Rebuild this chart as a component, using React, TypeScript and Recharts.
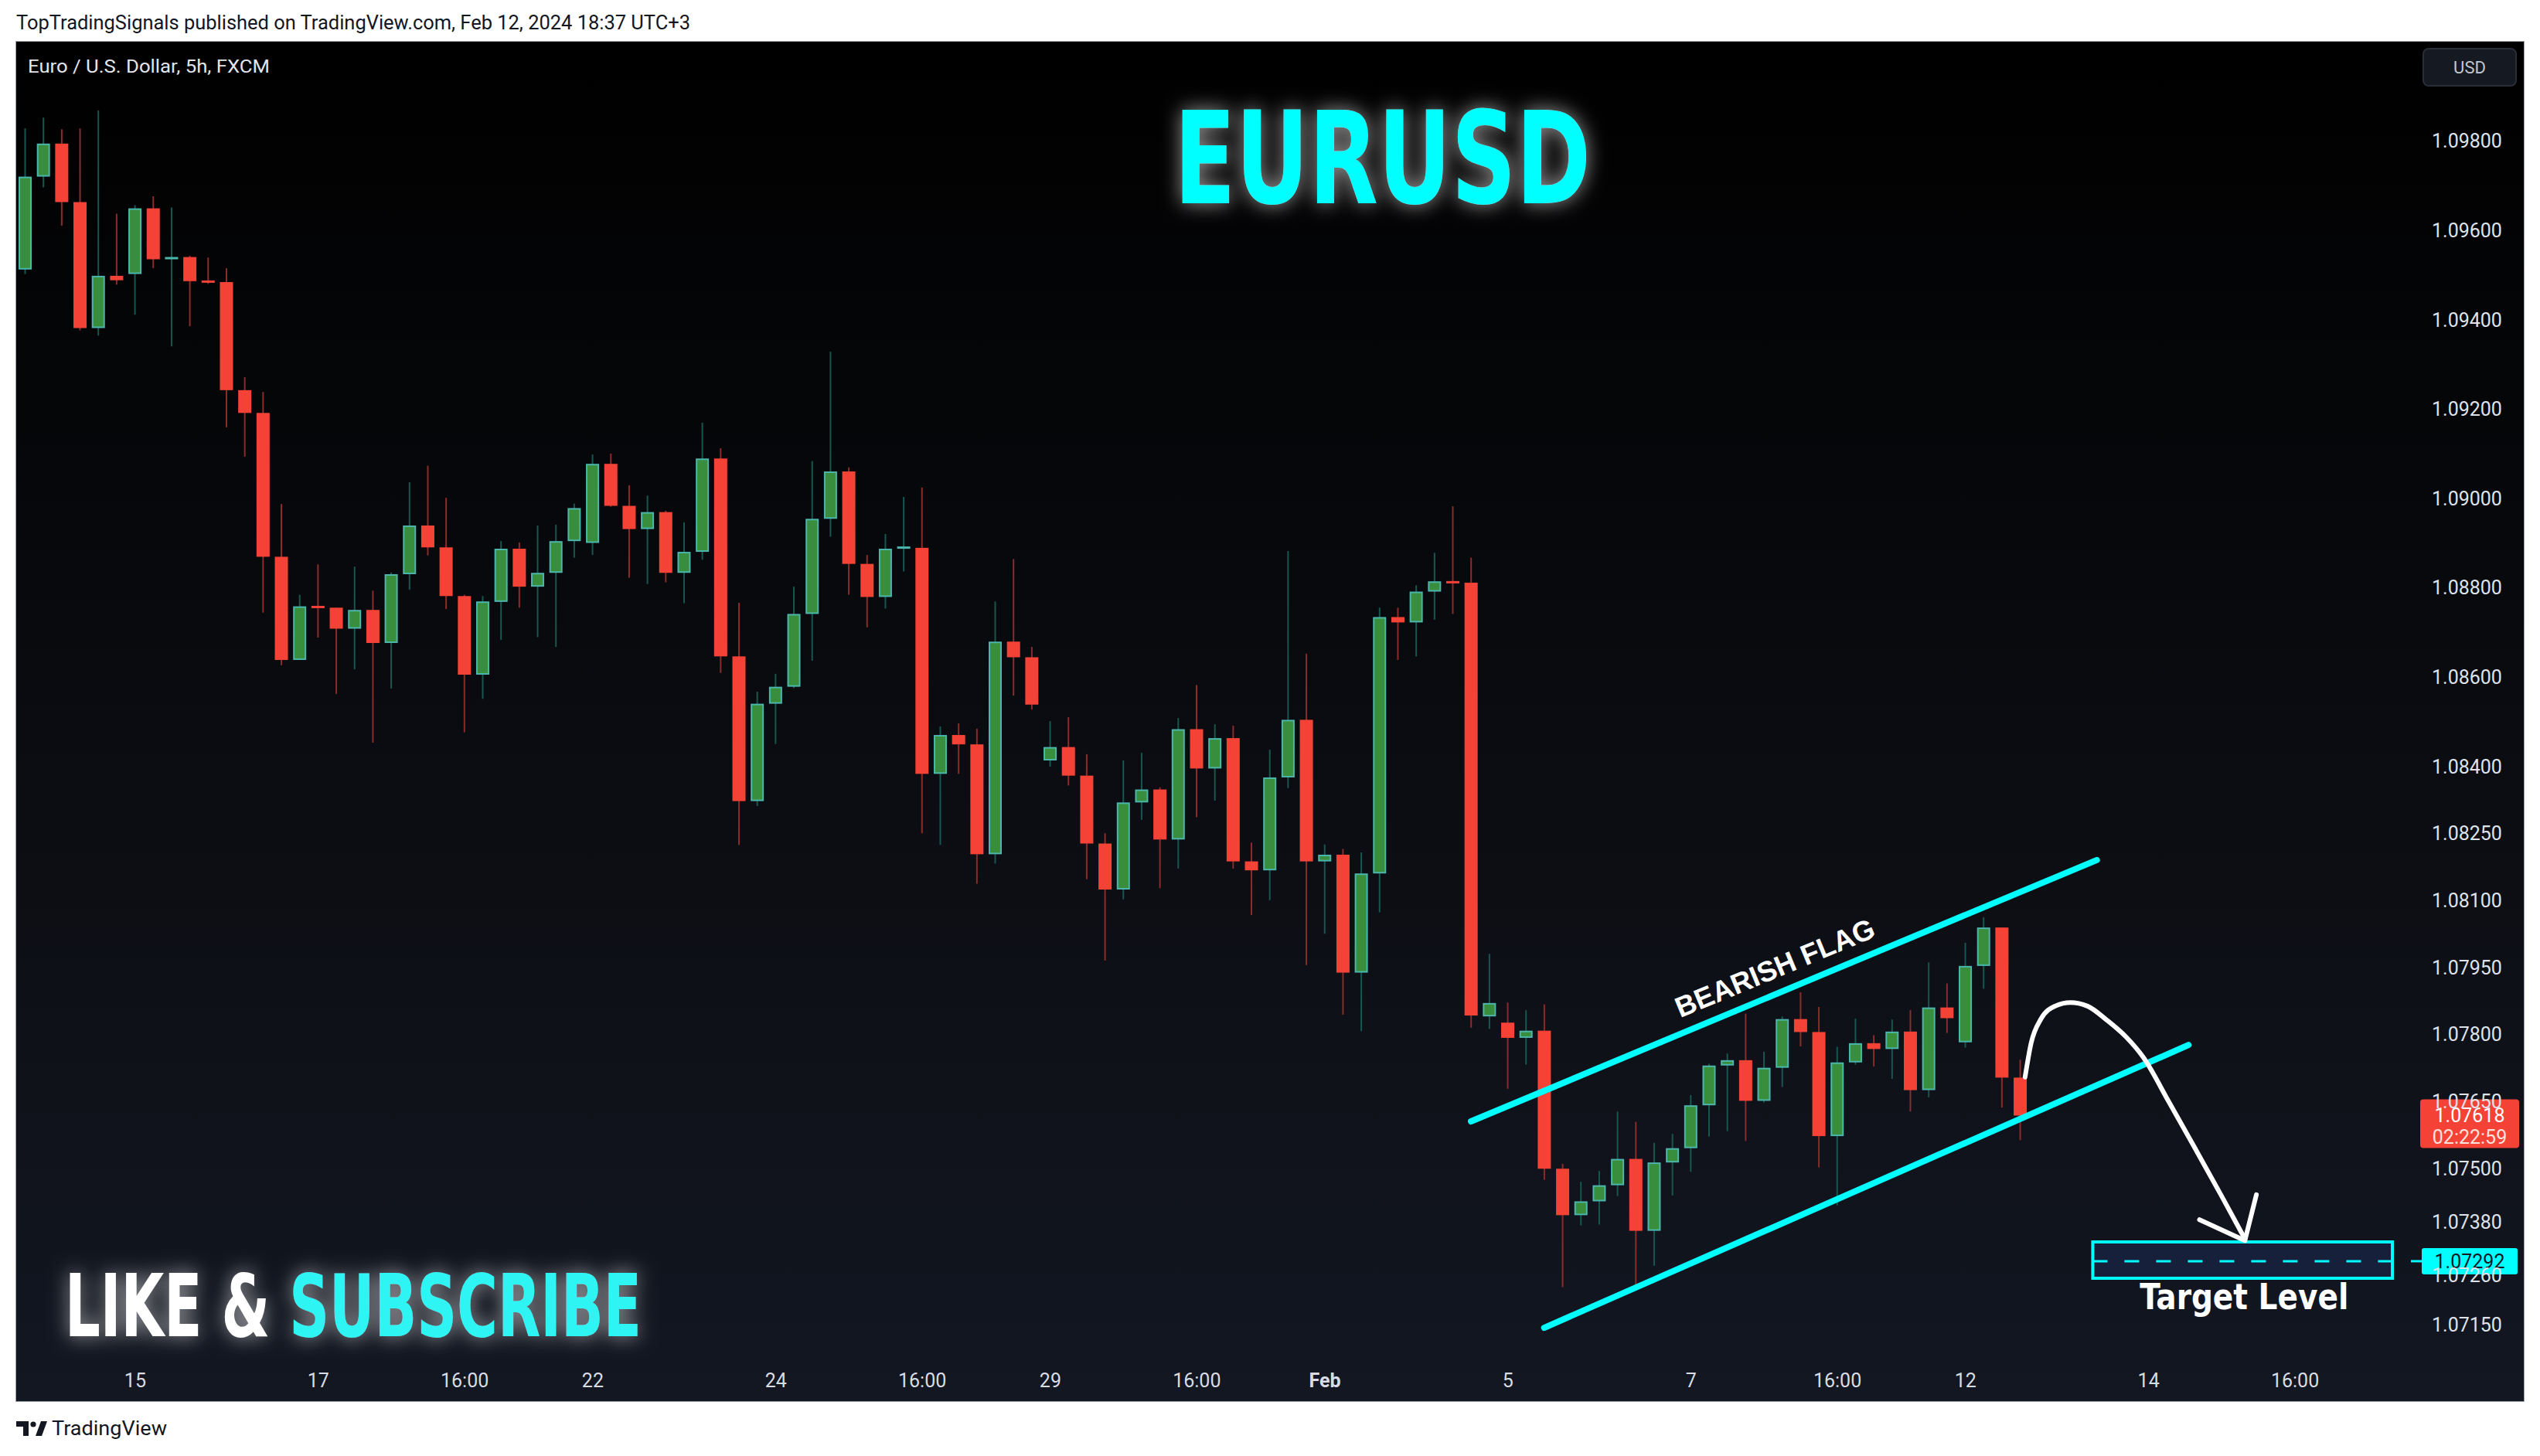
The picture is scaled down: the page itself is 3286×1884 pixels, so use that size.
import React from 'react';
import { ComposedChart, Bar, Line, XAxis, YAxis, ReferenceLine, ReferenceArea, ReferenceDot } from 'recharts';

// ---------- DATA ----------
const opens = [
  1.09512, 1.09720, 1.09794, 1.09663, 1.09381, 1.09498, 1.09502, 1.09649, 1.09535, 1.09540,
  1.09486, 1.09484, 1.09242, 1.09191, 1.08869, 1.08638, 1.08758, 1.08755, 1.08708, 1.08750,
  1.08676, 1.08830, 1.08939, 1.08890, 1.08781, 1.08605, 1.08768, 1.08887, 1.08802, 1.08833,
  1.08904, 1.08900, 1.09077, 1.08983, 1.08931, 1.08969, 1.08833, 1.08880, 1.09089, 1.08646,
  1.08322, 1.08540, 1.08578, 1.08741, 1.08954, 1.09060, 1.08853, 1.08779, 1.08888, 1.08889,
  1.08383, 1.08470, 1.08449, 1.08203, 1.08679, 1.08644, 1.08413, 1.08443, 1.08379, 1.08227,
  1.08124, 1.08319, 1.08348, 1.08236, 1.08483, 1.08395, 1.08463, 1.08187, 1.08167, 1.08375,
  1.08504, 1.08187, 1.08202, 1.07938, 1.08160, 1.08734, 1.08722, 1.08791, 1.08814, 1.08811,
  1.07840, 1.07826, 1.07792, 1.07808, 1.07499, 1.07395, 1.07426, 1.07462, 1.07521, 1.07360,
  1.07513, 1.07545, 1.07641, 1.07730, 1.07742, 1.07651, 1.07725, 1.07834, 1.07805, 1.07572,
  1.07737, 1.07780, 1.07767, 1.07806, 1.07675, 1.07860, 1.07782, 1.07953, 1.08039, 1.07703,
];
const highs = [
  1.09828, 1.09852, 1.09826, 1.09828, 1.09868, 1.09637, 1.09656, 1.09676, 1.09651, 1.09543,
  1.09539, 1.09515, 1.09271, 1.09238, 1.08987, 1.08784, 1.08852, 1.08755, 1.08847, 1.08793,
  1.08834, 1.09036, 1.09073, 1.09001, 1.08784, 1.08781, 1.08904, 1.08901, 1.08939, 1.08941,
  1.08988, 1.09098, 1.09100, 1.09029, 1.09006, 1.08972, 1.08946, 1.09169, 1.09112, 1.08766,
  1.08567, 1.08607, 1.08802, 1.09083, 1.09328, 1.09069, 1.08873, 1.08920, 1.09003, 1.09024,
  1.08489, 1.08496, 1.08484, 1.08769, 1.08864, 1.08667, 1.08501, 1.08510, 1.08427, 1.08250,
  1.08413, 1.08430, 1.08353, 1.08508, 1.08582, 1.08494, 1.08491, 1.08229, 1.08437, 1.08882,
  1.08652, 1.08225, 1.08215, 1.08207, 1.08755, 1.08755, 1.08805, 1.08878, 1.08982, 1.08867,
  1.07980, 1.07871, 1.07854, 1.07867, 1.07510, 1.07470, 1.07494, 1.07627, 1.07604, 1.07557,
  1.07577, 1.07664, 1.07734, 1.07757, 1.07846, 1.07761, 1.07840, 1.07894, 1.07861, 1.07772,
  1.07835, 1.07798, 1.07833, 1.07854, 1.07961, 1.07914, 1.08005, 1.08062, 1.08039, 1.07743,
];
const lows = [
  1.09502, 1.09696, 1.09610, 1.09376, 1.09364, 1.09478, 1.09411, 1.09515, 1.09340, 1.09385,
  1.09480, 1.09159, 1.09093, 1.08744, 1.08626, 1.08638, 1.08688, 1.08562, 1.08617, 1.08453,
  1.08574, 1.08795, 1.08872, 1.08752, 1.08476, 1.08551, 1.08683, 1.08755, 1.08689, 1.08667,
  1.08867, 1.08873, 1.08981, 1.08822, 1.08808, 1.08812, 1.08765, 1.08862, 1.08609, 1.08224,
  1.08311, 1.08450, 1.08575, 1.08636, 1.08914, 1.08784, 1.08711, 1.08753, 1.08836, 1.08250,
  1.08224, 1.08383, 1.08137, 1.08182, 1.08558, 1.08527, 1.08399, 1.08357, 1.08147, 1.07965,
  1.08102, 1.08280, 1.08127, 1.08171, 1.08286, 1.08323, 1.08171, 1.08067, 1.08100, 1.08351,
  1.07955, 1.08025, 1.07844, 1.07807, 1.08073, 1.08638, 1.08646, 1.08728, 1.08741, 1.07815,
  1.07812, 1.07678, 1.07732, 1.07474, 1.07234, 1.07372, 1.07374, 1.07438, 1.07227, 1.07282,
  1.07439, 1.07492, 1.07571, 1.07583, 1.07561, 1.07647, 1.07682, 1.07773, 1.07502, 1.07417,
  1.07732, 1.07728, 1.07700, 1.07627, 1.07659, 1.07803, 1.07770, 1.07902, 1.07636, 1.07563,
];
const closes = [
  1.09720, 1.09794, 1.09663, 1.09381, 1.09498, 1.09488, 1.09649, 1.09535, 1.09540, 1.09486,
  1.09484, 1.09242, 1.09191, 1.08869, 1.08638, 1.08758, 1.08755, 1.08708, 1.08750, 1.08676,
  1.08830, 1.08939, 1.08890, 1.08781, 1.08605, 1.08769, 1.08887, 1.08802, 1.08833, 1.08904,
  1.08978, 1.09077, 1.08983, 1.08931, 1.08969, 1.08833, 1.08880, 1.09089, 1.08646, 1.08322,
  1.08540, 1.08578, 1.08741, 1.08954, 1.09060, 1.08853, 1.08779, 1.08887, 1.08891, 1.08383,
  1.08470, 1.08449, 1.08203, 1.08679, 1.08644, 1.08538, 1.08443, 1.08379, 1.08227, 1.08124,
  1.08319, 1.08348, 1.08236, 1.08483, 1.08395, 1.08463, 1.08187, 1.08167, 1.08375, 1.08504,
  1.08187, 1.08202, 1.07938, 1.08160, 1.08734, 1.08722, 1.08791, 1.08814, 1.08810, 1.07842,
  1.07870, 1.07792, 1.07808, 1.07499, 1.07395, 1.07426, 1.07462, 1.07521, 1.07360, 1.07513,
  1.07545, 1.07641, 1.07730, 1.07742, 1.07651, 1.07725, 1.07834, 1.07805, 1.07572, 1.07737,
  1.07780, 1.07767, 1.07806, 1.07675, 1.07860, 1.07836, 1.07953, 1.08039, 1.07703, 1.07618,
];
const FUTURE_SLOTS = 21;

const timeTickIdx = [6, 16, 24, 31, 41, 49, 56, 64, 71, 81, 91, 99, 106, 116, 124];
const timeTickLbl = ['15', '17', '16:00', '22', '24', '16:00', '29', '16:00', 'Feb', '5', '7', '16:00', '12', '14', '16:00'];
const priceTicks = [1.098, 1.096, 1.094, 1.092, 1.09, 1.088, 1.086, 1.084, 1.0825, 1.081, 1.0795, 1.078, 1.0765, 1.075, 1.0738, 1.0726, 1.0715];

const lastPrice = 1.07618;
const countdown = '02:22:59';
const targetPrice = 1.07292;

const flagUpper = [{ x: 78.98, y: 1.07605 }, { x: 113.17, y: 1.0819 }];
const flagLower = [{ x: 82.98, y: 1.07143 }, { x: 118.18, y: 1.07776 }];
const targetBox = { x1: 112.95, x2: 129.32, y1: 1.07254, y2: 1.07335 };
const flagLabelPos = { x: 95.59, y: 1.07948 };
const targetLabelPos = { x: 121.22, y: 1.07185 };

const arrowPath = [
  { i: 109.25, p: 1.07704 }, { i: 109.58, p: 1.0778 }, { i: 110.13, p: 1.07835 },
  { i: 110.89, p: 1.07863 }, { i: 111.73, p: 1.07871 }, { i: 112.66, p: 1.07863 },
  { i: 113.71, p: 1.07832 }, { i: 114.77, p: 1.07794 }, { i: 115.7, p: 1.07749 },
  { i: 117.09, p: 1.0765 }, { i: 118.56, p: 1.07543 }, { i: 120.04, p: 1.07434 },
  { i: 121.26, p: 1.07342 },
];
const arrowHead = [{ i: 118.78, p: 1.07385 }, { i: 121.26, p: 1.07338 }, { i: 121.89, p: 1.07441 }];

// ---------- LAYOUT / STYLE ----------
const W = 3286;
const H = 1884;
const Y_MIN = 1.070704;
const Y_MAX = 1.10022;
const UI = "Roboto, 'Liberation Sans', Arial, sans-serif";
const COND = "'Liberation Sans Narrow', 'DejaVu Sans Condensed', Roboto, sans-serif";
const CYAN = '#00ffff';
const UP_FILL = '#388e3c';
const UP_EDGE = '#4db6ac';
const UP_WICK = '#17574f';
const DN_FILL = '#f44336';
const DN_WICK = '#8a2c2c';

const rows = Array.from({ length: opens.length + FUTURE_SLOTS }, (_, i) =>
  i < opens.length
    ? { i, o: opens[i], h: highs[i], l: lows[i], c: closes[i], hl: [lows[i], highs[i]] }
    : { i, hl: null }
);

const Candle = (props: any) => {
  const { x, y, width, height, payload } = props;
  if (!payload || payload.o == null || x == null) return <g />;
  const { o, h, l, c } = payload;
  const top = Math.min(y, y + height);
  const bot = Math.max(y, y + height);
  const span = h - l || 1e-9;
  const yOf = (v: number) => top + ((h - v) / span) * (bot - top);
  const cx = x + width / 2;
  const up = c >= o;
  let bt = Math.min(yOf(o), yOf(c));
  let bb = Math.max(yOf(o), yOf(c));
  if (bb - bt < 3) {
    const m = (bt + bb) / 2;
    bt = m - 1.5;
    bb = m + 1.5;
  }
  const bw = 17;
  return (
    <g>
      <line x1={cx} x2={cx} y1={top} y2={bot} stroke={up ? UP_WICK : DN_WICK} strokeWidth={2} />
      {up ? (
        <rect x={cx - bw / 2 + 1} y={bt + 1} width={bw - 2} height={Math.max(bb - bt - 2, 1)} fill={UP_FILL} stroke={UP_EDGE} strokeWidth={2} />
      ) : (
        <rect x={cx - bw / 2} y={bt} width={bw} height={bb - bt} fill={DN_FILL} />
      )}
    </g>
  );
};

const TimeTick = (p: any) => {
  const k = timeTickIdx.indexOf(p.payload.value);
  const label = k >= 0 ? timeTickLbl[k] : '';
  return (
    <text x={p.x} y={p.y} dy={35} textAnchor="middle" fill="#d9dce3" fontSize={25} fontFamily={UI} fontWeight={label === 'Feb' ? 700 : 400}>
      {label}
    </text>
  );
};

const PriceTick = (p: any) => (
  <text x={p.x + 23} y={p.y} dy={9} textAnchor="start" fill="#dfe2e9" fontSize={25} fontFamily={UI}>
    {Number(p.payload.value).toFixed(5)}
  </text>
);

const LastBadge = (p: any) => {
  const { cx, cy } = p;
  return (
    <g>
      <rect x={cx + 8} y={cy - 21} width={128} height={63} rx={4} fill={DN_FILL} />
      <text x={cx + 72} y={cy + 9} textAnchor="middle" fill="#ffffff" fontSize={25} fontFamily={UI}>
        {lastPrice.toFixed(5)}
      </text>
      <text x={cx + 72} y={cy + 37} textAnchor="middle" fill="#ffe1de" fontSize={25} fontFamily={UI}>
        {countdown}
      </text>
    </g>
  );
};

const TargetBadge = (p: any) => {
  const { cx, cy } = p;
  return (
    <g>
      <line x1={cx - 4} x2={cx + 12} y1={cy} y2={cy} stroke={CYAN} strokeWidth={3} />
      <rect x={cx + 10} y={cy - 17} width={124} height={34} rx={3} fill={CYAN} />
      <text x={cx + 72} y={cy + 9} textAnchor="middle" fill="#131722" fontSize={25} fontFamily={UI}>
        {targetPrice.toFixed(5)}
      </text>
    </g>
  );
};

const FlagLabel = (p: any) => {
  const { cx, cy } = p;
  return (
    <text x={cx} y={cy} transform={`rotate(-22.6 ${cx} ${cy})`} textAnchor="middle" dominantBaseline="central"
      fill="#ffffff" fontSize={37} fontWeight={700} fontFamily="'Liberation Sans', Arial, sans-serif"
      textLength={276} lengthAdjust="spacingAndGlyphs">
      BEARISH FLAG
    </text>
  );
};

const TargetLabel = (p: any) => {
  const { cx, cy } = p;
  return (
    <text x={cx} y={cy} textAnchor="middle" fill="#ffffff" fontSize={47} fontWeight={700} fontFamily={COND}
      textLength={270} lengthAdjust="spacingAndGlyphs">
      Target Level
    </text>
  );
};

export default function App() {
  return (
    <div style={{ position: 'absolute', left: 0, top: 0, width: W, height: H, background: '#ffffff', overflow: 'hidden' }}>
      <div
        style={{
          position: 'absolute', left: 20, top: 53, width: 3246, height: 1761, boxSizing: 'border-box',
          border: '1px solid #9ba0aa',
          background: 'linear-gradient(180deg, #000000 0%, #07080b 35%, #0d0f15 65%, #131722 100%)',
        }}
      />
      <div style={{ position: 'absolute', left: 0, top: 0 }}>
        <ComposedChart width={W} height={H} data={rows} margin={{ top: 54, right: 21, bottom: 71, left: 21 }} barCategoryGap={0}>
          <XAxis xAxisId="num" dataKey="i" type="number" domain={[-0.5, 130.5]} allowDataOverflow ticks={timeTickIdx}
            interval={0} tickLine={false} axisLine={false} tickSize={0} tickMargin={0} height={53}
            tick={(p: any) => <TimeTick {...p} />} />
          <XAxis xAxisId="cat" dataKey="i" type="category" hide height={0} />
          <YAxis yAxisId="p" orientation="right" type="number" domain={[Y_MIN, Y_MAX]} allowDataOverflow ticks={priceTicks}
            interval={0} width={142} tickLine={false} axisLine={false} tickSize={0} tickMargin={0}
            tick={(p: any) => <PriceTick {...p} />} />
          <Bar xAxisId="cat" yAxisId="p" dataKey="hl" barSize={17} shape={(p: any) => <Candle {...p} />} isAnimationActive={false} />
          <ReferenceArea xAxisId="num" yAxisId="p" x1={targetBox.x1} x2={targetBox.x2} y1={targetBox.y1} y2={targetBox.y2}
            fill="#16203a" fillOpacity={1} stroke={CYAN} strokeWidth={4} ifOverflow="visible" />
          <ReferenceLine xAxisId="num" yAxisId="p" segment={[{ x: targetBox.x1, y: targetPrice }, { x: targetBox.x2, y: targetPrice }]}
            stroke={CYAN} strokeWidth={3} strokeDasharray="19 22" ifOverflow="visible" />
          <ReferenceLine xAxisId="num" yAxisId="p" segment={flagUpper} stroke={CYAN} strokeWidth={8} strokeLinecap="round" ifOverflow="visible" />
          <ReferenceLine xAxisId="num" yAxisId="p" segment={flagLower} stroke={CYAN} strokeWidth={8} strokeLinecap="round" ifOverflow="visible" />
          <Line xAxisId="num" yAxisId="p" data={arrowPath} dataKey="p" type="monotone" stroke="#ffffff" strokeWidth={6}
            strokeLinecap="round" dot={false} activeDot={false} isAnimationActive={false} />
          <Line xAxisId="num" yAxisId="p" data={arrowHead} dataKey="p" type="linear" stroke="#ffffff" strokeWidth={6}
            strokeLinecap="round" strokeLinejoin="round" dot={false} activeDot={false} isAnimationActive={false} />
          <ReferenceDot xAxisId="num" yAxisId="p" x={flagLabelPos.x} y={flagLabelPos.y} ifOverflow="visible" shape={(p: any) => <FlagLabel {...p} />} />
          <ReferenceDot xAxisId="num" yAxisId="p" x={targetLabelPos.x} y={targetLabelPos.y} ifOverflow="visible" shape={(p: any) => <TargetLabel {...p} />} />
          <ReferenceDot xAxisId="num" yAxisId="p" x={130.5} y={lastPrice} ifOverflow="visible" shape={(p: any) => <LastBadge {...p} />} />
          <ReferenceDot xAxisId="num" yAxisId="p" x={130.5} y={targetPrice} ifOverflow="visible" shape={(p: any) => <TargetBadge {...p} />} />
        </ComposedChart>
      </div>
      <svg width={W} height={H} style={{ position: 'absolute', left: 0, top: 0, pointerEvents: 'none' }}>
        <defs>
          <filter id="glowFx" x="-20%" y="-60%" width="140%" height="220%">
            <feGaussianBlur in="SourceAlpha" stdDeviation="13" result="blur" />
            <feFlood floodColor="#ffffff" floodOpacity="0.6" />
            <feComposite in2="blur" operator="in" result="halo" />
            <feMerge>
              <feMergeNode in="halo" />
              <feMergeNode in="SourceGraphic" />
            </feMerge>
          </filter>
        </defs>
        <text x={21} y={38} fill="#131722" fontSize={25} fontFamily={UI} textLength={872} lengthAdjust="spacingAndGlyphs">
          TopTradingSignals published on TradingView.com, Feb 12, 2024 18:37 UTC+3
        </text>
        <text x={36} y={94} fill="#e3e5ea" fontSize={23} fontFamily={UI} textLength={313} lengthAdjust="spacingAndGlyphs">
          Euro / U.S. Dollar, 5h, FXCM
        </text>
        <rect x={3135} y={63} width={120} height={48} rx={7} fill="#151922" stroke="#2a2e39" strokeWidth={2} />
        <text x={3195} y={95} textAnchor="middle" fill="#c3c6ce" fontSize={22} fontFamily={UI}>USD</text>
        <text x={1519} y={263} fontSize={166} fontWeight={700} fontFamily={COND} fill={CYAN}
          filter="url(#glowFx)" textLength={539} lengthAdjust="spacingAndGlyphs">EURUSD</text>
        <text x={84} y={1729} fontSize={112} fontWeight={700} fontFamily={COND}
          filter="url(#glowFx)" textLength={746} lengthAdjust="spacingAndGlyphs">
          <tspan fill="#ffffff">LIKE &amp; </tspan>
          <tspan fill="#2ef4f4">SUBSCRIBE</tspan>
        </text>
        <g fill="#131722">
          <path d="M21 1839 h16 v19 h-7 v-12 h-9 z" />
          <circle cx={43} cy={1843} r={3.6} />
          <path d="M46 1858 L53 1839 L61 1839 L54 1858 Z" />
        </g>
        <text x={67} y={1857} fill="#131722" fontSize={25} fontFamily={UI} textLength={149} lengthAdjust="spacingAndGlyphs">
          TradingView
        </text>
      </svg>
    </div>
  );
}
